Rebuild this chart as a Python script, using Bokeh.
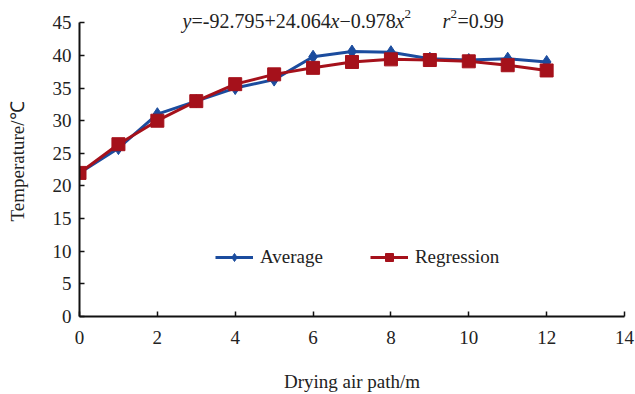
from bokeh.plotting import figure
from bokeh.models import Range1d, FixedTicker, Label, Legend, LegendItem
from bokeh.embed import file_html
from bokeh.resources import INLINE

# ---- data ----
distance = [0, 1, 2, 3, 4, 5, 6, 7, 8, 9, 10, 11, 12]
average = [22.0, 25.8, 31.0, 33.0, 35.0, 36.3, 39.8, 40.6, 40.5, 39.5, 39.3, 39.5, 39.0]
regression = [22.0, 26.4, 30.0, 33.0, 35.6, 37.1, 38.1, 39.0, 39.4, 39.3, 39.1, 38.5, 37.7]
x_ticks = [0, 2, 4, 6, 8, 10, 12, 14]
y_ticks = [0, 5, 10, 15, 20, 25, 30, 35, 40, 45]

FONT = "Liberation Serif"
BLUE = "#1B4C9E"
RED = "#A5111B"

p = figure(width=635, height=394, output_backend="svg", toolbar_location=None,
           x_range=Range1d(0, 14), y_range=Range1d(0, 47.5),
           min_border_left=79, min_border_right=11, min_border_top=6,
           min_border_bottom=77)
p.outline_line_color = None
p.grid.visible = False
p.background_fill_color = "white"
p.border_fill_color = "white"

xa = p.xaxis[0]
ya = p.yaxis[0]
xa.ticker = FixedTicker(ticks=x_ticks)
ya.ticker = FixedTicker(ticks=y_ticks)
ya.bounds = (0, 45)
for ax in (xa, ya):
    ax.axis_line_width = 2
    ax.axis_line_color = "#111111"
    ax.major_tick_line_width = 1.5
    ax.major_tick_line_color = "#111111"
    ax.major_tick_in = 5
    ax.major_tick_out = 0
    ax.minor_tick_line_color = None
    ax.major_label_text_font = FONT
    ax.major_label_text_font_size = "19px"
    ax.major_label_text_color = "#222222"
    ax.axis_label_text_font = FONT
    ax.axis_label_text_font_size = "19px"
    ax.axis_label_text_font_style = "normal"
    ax.axis_label_text_color = "#222222"
xa.axis_label = "Drying air path/m"
ya.axis_label = "Temperature/\u2103"
xa.major_label_standoff = 14
xa.axis_label_standoff = 24
ya.major_label_standoff = 8
ya.axis_label_standoff = 22

l1 = p.line(distance, average, line_color=BLUE, line_width=3)
s1 = p.scatter(distance, average, marker="diamond", size=13,
               fill_color=BLUE, line_color=BLUE)
l2 = p.line(distance, regression, line_color=RED, line_width=3)
s2 = p.scatter(distance, regression, marker="square", size=13,
               fill_color=RED, line_color=RED)

legend = Legend(items=[LegendItem(label="Average", renderers=[l1, s1]),
                       LegendItem(label="Regression", renderers=[l2, s2])],
                orientation="horizontal", location=(136, 48), padding=0,
                spacing=47, glyph_width=38, glyph_height=20, label_standoff=7,
                border_line_color=None, background_fill_alpha=0,
                label_text_font=FONT, label_text_font_size="19px",
                label_text_color="#222222")
p.add_layout(legend)

# equation text, pieces: (text, pixel offset from y axis, style, size, raise)
eq_parts = [
    ("y", 103, "italic", "20px", 2),
    ("=-92.795+24.064", 112, "normal", "20px", 2),
    ("x", 251, "italic", "20px", 2),
    ("\u22120.978", 260, "normal", "20px", 2),
    ("x", 316, "italic", "20px", 2),
    ("2", 325, "normal", "13px", 9),
    ("r", 363, "italic", "20px", 2),
    ("2", 371, "normal", "13px", 9),
    ("=0.99", 378, "normal", "20px", 2),
]
for txt, dx, style, size, dy in eq_parts:
    p.add_layout(Label(x=0, y=45, x_offset=dx, y_offset=dy, text=txt,
                       text_font=FONT, text_font_style=style,
                       text_font_size=size, text_color="#222222",
                       text_baseline="middle", text_align="left"))

open("out.html", "w").write(file_html(p, INLINE))
